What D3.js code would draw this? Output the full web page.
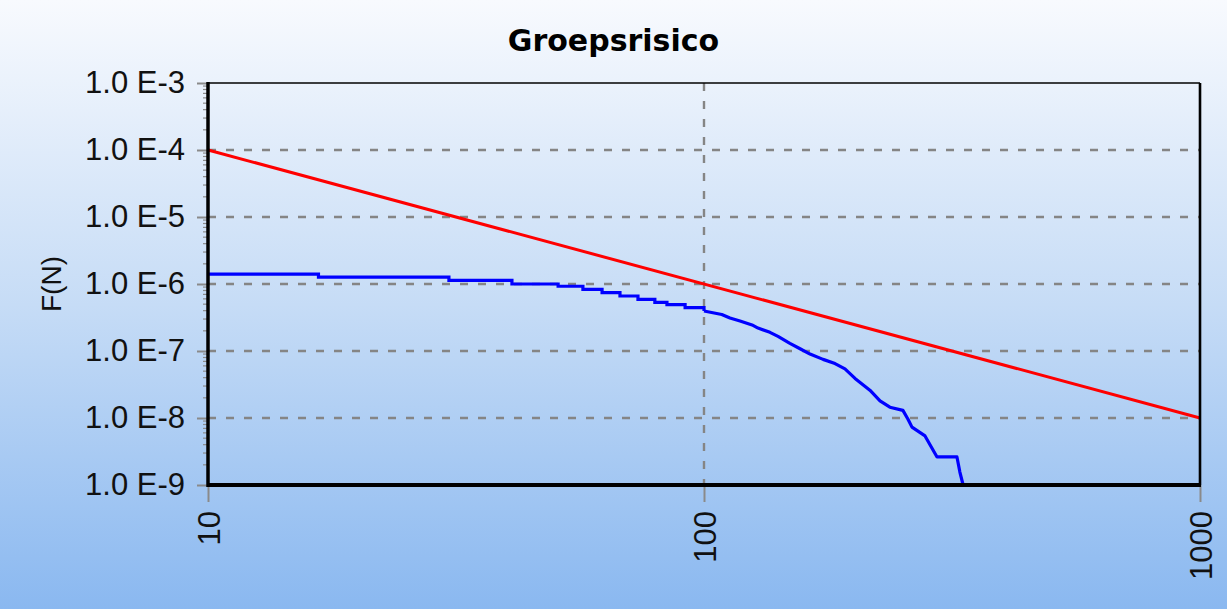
<!DOCTYPE html>
<html>
<head>
<meta charset="utf-8">
<script src="https://cdn.jsdelivr.net/npm/d3@7"></script>
<style>
  html, body { margin: 0; padding: 0; overflow: hidden; }
  svg { display: block; }
</style>
</head>
<body>
<svg id="chart" width="1227" height="609"></svg>
<script>
// ---- data ----
const titleText = "Groepsrisico";
const yAxisTitle = "F(N)";
const xTicks = [10, 100, 1000];
const xTickLabels = ["10", "100", "1000"];
const yTicks = [1e-3, 1e-4, 1e-5, 1e-6, 1e-7, 1e-8, 1e-9];
const yTickLabels = ["1.0 E-3", "1.0 E-4", "1.0 E-5", "1.0 E-6", "1.0 E-7", "1.0 E-8", "1.0 E-9"];

// orientatiewaarde (norm line)
const normN = [10, 1000];
const normF = [1e-4, 1e-8];

// groepsrisico curve: stepped part (N < 100)
const stepN = [10, 16.7, 30.6, 41.0, 50.8, 57.0, 62.3, 67.7, 73.6, 79.6, 84.2, 91.6, 100];
const stepF = [1.40e-6, 1.27e-6, 1.13e-6, 1.0e-6, 9.25e-7, 8.34e-7, 7.42e-7, 6.62e-7, 5.91e-7, 5.33e-7, 4.91e-7, 4.43e-7, 3.95e-7];
// groepsrisico curve: dense part (N >= 100)
const tailN = [100, 108.6, 112.8, 118.2, 125, 128.5, 135.8, 141, 149, 156.2, 163.6, 173.8, 183.7, 192.4, 201.6, 216, 226.4, 237, 251.8, 257.8, 262.6, 279, 295, 323.6, 328, 333];
const tailF = [3.95e-7, 3.5e-7, 3.1e-7, 2.8e-7, 2.45e-7, 2.2e-7, 1.9e-7, 1.65e-7, 1.3e-7, 1.08e-7, 9.0e-8, 7.5e-8, 6.5e-8, 5.4e-8, 3.9e-8, 2.6e-8, 1.8e-8, 1.45e-8, 1.3e-8, 9.6e-9, 7.3e-9, 5.4e-9, 2.62e-9, 2.62e-9, 1.56e-9, 1e-9];

// ---- layout ----
const W = 1227, H = 609;
const margin = { left: 208, right: 27, top: 83, bottom: 124 };
const svg = d3.select("#chart");

const defs = svg.append("defs");
const grad = defs.append("linearGradient").attr("id", "bg").attr("x1", 0).attr("y1", 0).attr("x2", 0).attr("y2", 1);
grad.append("stop").attr("offset", "0%").attr("stop-color", "#f8fafe");
grad.append("stop").attr("offset", "50%").attr("stop-color", "#c6dcf6");
grad.append("stop").attr("offset", "100%").attr("stop-color", "#8ab8f0");
svg.append("rect").attr("width", W).attr("height", H).attr("fill", "url(#bg)");

const x = d3.scaleLog().domain([10, 1000]).range([margin.left, W - margin.right]);
const y = d3.scaleLog().domain([1e-9, 1e-3]).range([H - margin.bottom, margin.top]);

const x0 = x.range()[0], x1 = x.range()[1], y0 = y.range()[0], y1 = y.range()[1];

// grid
const grid = svg.append("g").attr("stroke", "#858585").attr("stroke-width", 2.4).attr("stroke-dasharray", "8,10");
grid.selectAll("line.h").data(yTicks.slice(1, -1)).join("line")
  .attr("x1", x0).attr("x2", x1).attr("y1", d => y(d)).attr("y2", d => y(d));
grid.selectAll("line.v").data(xTicks.slice(1, -1)).join("line")
  .attr("x1", d => x(d)).attr("x2", d => x(d)).attr("y1", y1).attr("y2", y0);

// minor y ticks
const minor = [];
for (let k = -9; k < -3; k++) for (let m = 2; m <= 9; m++) minor.push(m * Math.pow(10, k));
svg.append("g").selectAll("line").data(minor).join("line")
  .attr("x1", x0 - 5).attr("x2", x0).attr("y1", d => y(d)).attr("y2", d => y(d))
  .attr("stroke", "#8a8a8a").attr("stroke-width", 1.2);

// y axis
const yAxis = d3.axisLeft(y).tickValues(yTicks).tickFormat((d, i) => yTickLabels[i]).tickSize(11).tickPadding(12);
const gy = svg.append("g").attr("transform", `translate(${x0},0)`).call(yAxis);
gy.select(".domain").remove();
gy.selectAll(".tick line").attr("stroke", "#8a8a8a").attr("stroke-width", 2);
gy.selectAll(".tick text").attr("font-family", "Liberation Sans, Arial, sans-serif").attr("font-size", 31).attr("fill", "#111");

// x axis
const xAxis = d3.axisBottom(x).tickValues(xTicks).tickFormat((d, i) => xTickLabels[i]).tickSize(17);
const gx = svg.append("g").attr("transform", `translate(0,${y0})`).call(xAxis);
gx.select(".domain").remove();
gx.selectAll(".tick line").attr("stroke", "#8a8a8a").attr("stroke-width", 2);
gx.selectAll(".tick text")
  .attr("font-family", "Liberation Sans, Arial, sans-serif").attr("font-size", 31).attr("fill", "#111")
  .attr("transform", "rotate(-90)").attr("text-anchor", "end")
  .attr("x", -26).attr("y", 0).attr("dy", "0.36em");

// lines
const lineGen = d3.line().x(d => x(d[0])).y(d => y(d[1]));
svg.append("path").datum(normN.map((n, i) => [n, normF[i]]))
  .attr("d", lineGen).attr("fill", "none").attr("stroke", "#ff0000").attr("stroke-width", 3);
svg.append("path").datum(stepN.map((n, i) => [n, stepF[i]]))
  .attr("d", d3.line().x(d => x(d[0])).y(d => y(d[1])).curve(d3.curveStepAfter))
  .attr("fill", "none").attr("stroke", "#0000ff").attr("stroke-width", 3.2);
svg.append("path").datum(tailN.map((n, i) => [n, tailF[i]]))
  .attr("d", lineGen).attr("fill", "none").attr("stroke", "#0000ff").attr("stroke-width", 3.2)
  .attr("stroke-linejoin", "round");

// frame
svg.append("line").attr("x1", x0).attr("x2", x1).attr("y1", y1).attr("y2", y1).attr("stroke", "#000").attr("stroke-width", 1.6);
svg.append("line").attr("x1", x1).attr("x2", x1).attr("y1", y1).attr("y2", y0).attr("stroke", "#000").attr("stroke-width", 2.6);
svg.append("line").attr("x1", x0).attr("x2", x0).attr("y1", y1 - 1).attr("y2", y0 + 2).attr("stroke", "#000").attr("stroke-width", 3.5);
svg.append("line").attr("x1", x0 - 1).attr("x2", x1 + 1).attr("y1", y0).attr("y2", y0).attr("stroke", "#000").attr("stroke-width", 4);

// title
svg.append("text").attr("x", W / 2).attr("y", 51).attr("text-anchor", "middle")
  .attr("font-family", "DejaVu Sans, Verdana, sans-serif").attr("font-weight", "bold").attr("font-size", 30)
  .attr("fill", "#000").text(titleText);

// y axis title
svg.append("text").attr("transform", `translate(61,${(y0 + y1) / 2}) rotate(-90)`).attr("text-anchor", "middle")
  .attr("font-family", "Liberation Sans, Arial, sans-serif").attr("font-size", 28).attr("fill", "#111").text(yAxisTitle);
</script>
</body>
</html>
